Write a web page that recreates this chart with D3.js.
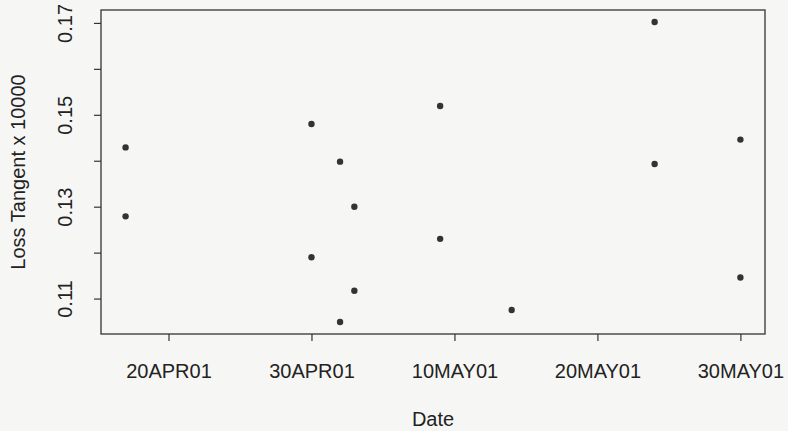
<!DOCTYPE html>
<html>
<head>
<meta charset="utf-8">
<script src="https://cdn.jsdelivr.net/npm/d3@7/dist/d3.min.js"></script>
<style>
  html, body { margin: 0; padding: 0; background: #f6f6f4; }
  svg { display: block; }
  text { font-family: "Liberation Sans", Arial, Helvetica, sans-serif; fill: #222; }
</style>
</head>
<body>
<script>
// Data
const dates = ["2001-04-17","2001-04-17","2001-04-30","2001-04-30","2001-05-02","2001-05-02",
               "2001-05-03","2001-05-03","2001-05-09","2001-05-09","2001-05-14",
               "2001-05-24","2001-05-24","2001-05-30","2001-05-30"];
const lossTangent = [0.1429,0.1279,0.1480,0.1190,0.1398,0.1049,
                     0.1300,0.1117,0.1519,0.1230,0.1075,
                     0.1702,0.1393,0.1446,0.1146];
const xTickDates = ["2001-04-20","2001-04-30","2001-05-10","2001-05-20","2001-05-30"];
const xTickLabels = ["20APR01","30APR01","10MAY01","20MAY01","30MAY01"];
const yTicks = [0.11,0.12,0.13,0.14,0.15,0.16,0.17];
const yTickLabels = ["0.11","","0.13","","0.15","","0.17"];

const W = 788, H = 431;
const plot = {left: 101, right: 765, top: 10, bottom: 334};
const FS = 20;

const parse = d3.utcParse("%Y-%m-%d");
const xs = dates.map(parse);
const points = xs.map((d, i) => ({date: d, value: lossTangent[i]}));

// R-style 4% extension of the data range
const xExt = d3.extent(xs), yExt = d3.extent(lossTangent);
const xPad = (xExt[1] - xExt[0]) * 0.04, yPad = (yExt[1] - yExt[0]) * 0.04;

const x = d3.scaleUtc()
  .domain([new Date(+xExt[0] - xPad), new Date(+xExt[1] + xPad)])
  .range([plot.left, plot.right]);
const y = d3.scaleLinear()
  .domain([yExt[0] - yPad, yExt[1] + yPad])
  .range([plot.bottom, plot.top]);

const svg = d3.select("body").append("svg").attr("width", W).attr("height", H);

svg.append("rect").attr("width", W).attr("height", H).attr("fill", "#f6f6f4");

// Frame
svg.append("rect")
  .attr("x", plot.left).attr("y", plot.top)
  .attr("width", plot.right - plot.left).attr("height", plot.bottom - plot.top)
  .attr("fill", "none").attr("stroke", "#333").attr("stroke-width", 1.3);

// X axis
const xAxis = d3.axisBottom(x)
  .tickValues(xTickDates.map(parse))
  .tickFormat((d, i) => xTickLabels[i])
  .tickSize(7).tickPadding(23);
const gx = svg.append("g").attr("transform", `translate(0,${plot.bottom})`).call(xAxis);
gx.select(".domain").remove();
gx.selectAll(".tick line").attr("stroke", "#333").attr("stroke-width", 1.2);
gx.selectAll(".tick text").attr("font-size", FS).attr("fill", "#222")
  .style("font-family", "'Liberation Sans', Arial, sans-serif");

// Y axis
const yAxis = d3.axisLeft(y)
  .tickValues(yTicks)
  .tickFormat((d, i) => yTickLabels[i])
  .tickSize(7);
const gy = svg.append("g").attr("transform", `translate(${plot.left},0)`).call(yAxis);
gy.select(".domain").remove();
gy.selectAll(".tick line").attr("stroke", "#333").attr("stroke-width", 1.2);
gy.selectAll(".tick text")
  .attr("font-size", FS).attr("fill", "#222")
  .attr("x", null).attr("dy", null)
  .attr("text-anchor", "middle")
  .attr("transform", "translate(-29,0) rotate(-90)")
  .attr("y", 0)
  .style("font-family", "'Liberation Sans', Arial, sans-serif");

// Points
svg.append("g").selectAll("circle").data(points).join("circle")
  .attr("cx", d => x(d.date))
  .attr("cy", d => y(d.value))
  .attr("r", 3.2)
  .attr("fill", "#333");

// Axis titles
svg.append("text")
  .attr("x", (plot.left + plot.right) / 2).attr("y", 426)
  .attr("text-anchor", "middle").attr("font-size", FS)
  .text("Date");
svg.append("text")
  .attr("transform", `translate(25,${(plot.top + plot.bottom) / 2}) rotate(-90)`)
  .attr("text-anchor", "middle").attr("font-size", FS)
  .text("Loss Tangent x 10000");
</script>
</body>
</html>
